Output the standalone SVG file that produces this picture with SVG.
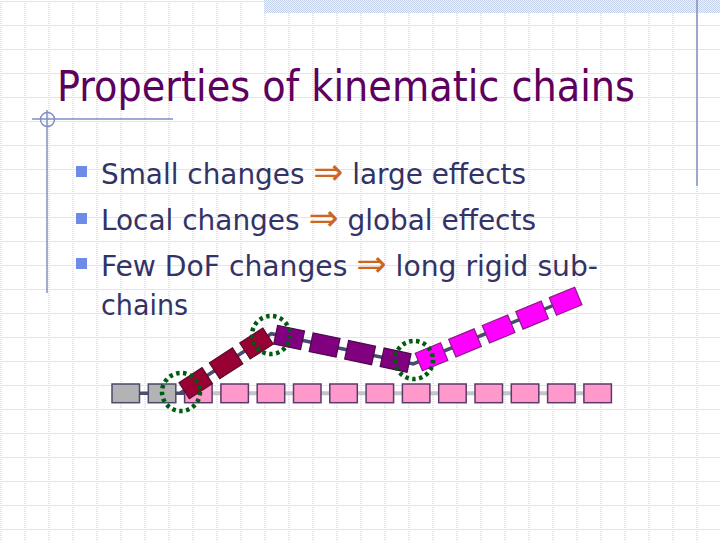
<svg xmlns="http://www.w3.org/2000/svg" width="720" height="540" viewBox="0 0 720 540">
<defs>
<pattern id="grid" width="24" height="24" patternUnits="userSpaceOnUse" x="0.5" y="1">
<path d="M0.5 0V24M0 0.5H24" fill="none" stroke="#c9c9c9" stroke-width="1" stroke-dasharray="1 1"/>
</pattern>
<pattern id="check" width="2" height="2" patternUnits="userSpaceOnUse">
<rect width="2" height="2" fill="#eef2f9"/>
<rect width="1" height="1" fill="#c3d1ea"/>
<rect x="1" y="1" width="1" height="1" fill="#c3d1ea"/>
</pattern>
<style>
.title{font-family:"DejaVu Sans Condensed","DejaVu Sans",sans-serif;font-size:42px;fill:#5e005e}
.body{font-family:"DejaVu Sans Condensed","DejaVu Sans",sans-serif;font-size:28px;fill:#333366}
.arr{fill:#cc6622;font-size:36px}
.bullet{fill:#6f8be8}
.frame{stroke:#7f8fc4;stroke-width:1.5;fill:none}
.grey{fill:#b3b3b5;stroke:#4a4a6a;stroke-width:1.5}
.pink{fill:#ff99cc;stroke:#5a3a6a;stroke-width:1.5}
.red{fill:#990033;stroke:#5a0a2a;stroke-width:1.2}
.purple{fill:#800080;stroke:#4a0a4a;stroke-width:1.2}
.magenta{fill:#ff00ff;stroke:#8a1a8a;stroke-width:1.2}
.joint{fill:none;stroke:#005a10;stroke-width:4.5;stroke-dasharray:3.5 3.5}
.dark{stroke:#4a4a72;stroke-width:3.5;fill:none}
.light{stroke:#c4c4cc;stroke-width:4;fill:none}
</style>
</defs>
<rect width="720" height="540" fill="#ffffff"/>
<rect width="720" height="540" fill="url(#grid)"/>
<rect x="264" y="0" width="456" height="13" fill="url(#check)"/>
<g id="frame">
<line class="frame" x1="697" y1="0" x2="697" y2="186"/>
<line class="frame" x1="32" y1="119" x2="173" y2="119"/>
<line class="frame" x1="47" y1="110" x2="47" y2="293"/>
<circle class="frame" cx="47.5" cy="119.5" r="7" stroke-width="1"/>
</g>
<g id="title">
<text class="title" x="57" y="101" textLength="578" lengthAdjust="spacingAndGlyphs">Properties of kinematic chains</text>
</g>
<g id="bullets">
<rect class="bullet" x="76" y="166" width="11" height="11"/>
<rect class="bullet" x="76" y="213" width="11" height="11"/>
<rect class="bullet" x="76" y="258" width="11" height="11"/>
<text class="body" x="101" y="184" textLength="425" lengthAdjust="spacingAndGlyphs">Small changes <tspan class="arr">⇒</tspan> large effects</text>
<text class="body" x="101" y="230" textLength="435" lengthAdjust="spacingAndGlyphs">Local changes <tspan class="arr">⇒</tspan> global effects</text>
<text class="body" x="101" y="276" textLength="497" lengthAdjust="spacingAndGlyphs">Few DoF changes <tspan class="arr">⇒</tspan> long rigid sub-</text>
<text class="body" x="101" y="315" textLength="87" lengthAdjust="spacingAndGlyphs">chains</text>
</g>
<g id="connectors">
<line class="light" x1="184" y1="393.3" x2="600" y2="393.3"/>
<line class="dark" x1="125" y1="393.3" x2="184" y2="393.3"/>
<polyline class="dark" points="180.5,393 271.3,333.7 413.3,363.9 565,300.5"/>
</g>
<g id="base-chain">
<rect id="b1" class="grey" x="112" y="384" width="27.5" height="18.7"/>
<rect id="b2" class="grey" x="148.3" y="384" width="27.5" height="18.7"/>
<rect id="b3" class="pink" x="184.6" y="384" width="27.5" height="18.7"/>
<rect id="b4" class="pink" x="220.9" y="384" width="27.5" height="18.7"/>
<rect id="b5" class="pink" x="257.2" y="384" width="27.5" height="18.7"/>
<rect id="b6" class="pink" x="293.5" y="384" width="27.5" height="18.7"/>
<rect id="b7" class="pink" x="329.8" y="384" width="27.5" height="18.7"/>
<rect id="b8" class="pink" x="366.1" y="384" width="27.5" height="18.7"/>
<rect id="b9" class="pink" x="402.4" y="384" width="27.5" height="18.7"/>
<rect id="b10" class="pink" x="438.7" y="384" width="27.5" height="18.7"/>
<rect id="b11" class="pink" x="475" y="384" width="27.5" height="18.7"/>
<rect id="b12" class="pink" x="511.3" y="384" width="27.5" height="18.7"/>
<rect id="b13" class="pink" x="547.6" y="384" width="27.5" height="18.7"/>
<rect id="b14" class="pink" x="583.9" y="384" width="27.5" height="18.7"/>
</g>
<g id="moved-chain">
<g id="r1" transform="translate(195.7,383.1) rotate(-33)"><rect class="red" x="-13.75" y="-9.5" width="27.5" height="19"/></g>
<g id="r2" transform="translate(226.1,363.3) rotate(-33)"><rect class="red" x="-13.75" y="-9.5" width="27.5" height="19"/></g>
<g id="r3" transform="translate(256.5,343.5) rotate(-33)"><rect class="red" x="-13.75" y="-9.5" width="27.5" height="19"/></g>
<g id="p1" transform="translate(289.1,337.5) rotate(12)"><rect class="purple" x="-13.75" y="-9.5" width="27.5" height="19"/></g>
<g id="p2" transform="translate(324.6,345.0) rotate(12)"><rect class="purple" x="-13.75" y="-9.5" width="27.5" height="19"/></g>
<g id="p3" transform="translate(360.1,352.6) rotate(12)"><rect class="purple" x="-13.75" y="-9.5" width="27.5" height="19"/></g>
<g id="p4" transform="translate(395.6,360.1) rotate(12)"><rect class="purple" x="-13.75" y="-9.5" width="27.5" height="19"/></g>
<g id="m1" transform="translate(431.5,356.8) rotate(-22.5)"><rect class="magenta" x="-13.75" y="-9.5" width="27.5" height="19"/></g>
<g id="m2" transform="translate(465.0,342.9) rotate(-22.5)"><rect class="magenta" x="-13.75" y="-9.5" width="27.5" height="19"/></g>
<g id="m3" transform="translate(498.6,329.0) rotate(-22.5)"><rect class="magenta" x="-13.75" y="-9.5" width="27.5" height="19"/></g>
<g id="m4" transform="translate(532.1,315.1) rotate(-22.5)"><rect class="magenta" x="-13.75" y="-9.5" width="27.5" height="19"/></g>
<g id="m5" transform="translate(565.6,301.2) rotate(-22.5)"><rect class="magenta" x="-13.75" y="-9.5" width="27.5" height="19"/></g>
</g>
<g id="joints">
<circle id="j1" class="joint" cx="181" cy="392" r="19"/>
<circle id="j2" class="joint" cx="271" cy="335" r="19"/>
<circle id="j3" class="joint" cx="414" cy="360" r="19"/>
</g>
</svg>
